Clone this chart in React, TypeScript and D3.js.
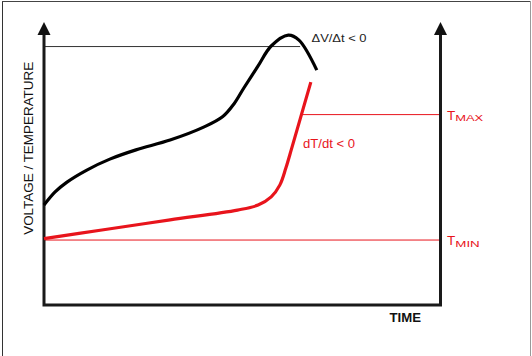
import React from "react";
import * as d3 from "d3";

// Data (time in % of axis span, values in % of axis height)
const voltageTime = [0, 2.8, 5.8, 10.8, 16.6, 23.2, 31.8, 40.4, 45.1, 47.9, 50.4, 54, 57.3, 61.6, 64.3, 68.8];
const voltageValues = [35.7, 40.4, 43.9, 48.2, 52.1, 55.4, 58.9, 63.6, 67.3, 71.8, 77.5, 85.4, 92.5, 96.4, 94.6, 83.9];
const tempTime = [0, 14.6, 31.8, 48.8, 54, 57.3, 59.5, 61, 62.5, 64.6, 67.3];
const tempValues = [23.7, 26.8, 30.4, 33.9, 35.7, 38.6, 42.9, 48.9, 56.1, 66.4, 79.6];
const vPeakLevel = 92.3;
const vPeakLineEnd = 64.6;
const tMaxLevel = 68;
const tMaxLineStart = 65;
const tMinLevel = 23.2;
const yAxisLabel = "VOLTAGE / TEMPERATURE";
const xAxisLabel = "TIME";
const dvLabel = "ΔV/Δt < 0";
const dtLabel = "dT/dt < 0";

const W = 532;
const H = 356;
const RED = "#e8141c";
const FONT = "'Liberation Sans', Arial, sans-serif";

export default function App() {
  const x = d3.scaleLinear().domain([0, 100]).range([44, 440.5]);
  const y = d3.scaleLinear().domain([0, 100]).range([305, 25]);

  const line = d3
    .line<[number, number]>()
    .x((d) => x(d[0]))
    .y((d) => y(d[1]))
    .curve(d3.curveCatmullRom.alpha(0.5));

  const vPts = voltageTime.map((t, i) => [t, voltageValues[i]] as [number, number]);
  const tPts = tempTime.map((t, i) => [t, tempValues[i]] as [number, number]);

  const x0 = x(0);
  const x1 = x(100);
  const yb = y(0);
  const arrowTip = 22;
  const arrowBase = 35;

  const arrow = (cx: number) =>
    `M${cx},${arrowTip} L${cx - 6.5},${arrowBase} L${cx + 6.5},${arrowBase} Z`;

  return (
    <svg
      width={W}
      height={H}
      viewBox={`0 0 ${W} ${H}`}
      style={{ position: "absolute", left: 0, top: 0, background: "#fff" }}
    >
      <rect x={0} y={0} width={W} height={H} fill="#fff" />
      {/* frame */}
      <line x1={2.5} y1={1} x2={2.5} y2={H} stroke="#333" strokeWidth={1} />
      <line x1={2} y1={1.5} x2={W - 1} y2={1.5} stroke="#444" strokeWidth={1} />
      <line x1={W - 1.5} y1={1} x2={W - 1.5} y2={H} stroke="#999" strokeWidth={1} />

      {/* reference lines */}
      <line x1={x0} y1={y(vPeakLevel)} x2={x(vPeakLineEnd)} y2={y(vPeakLevel)} stroke="#333" strokeWidth={1} />
      <line x1={x(tMaxLineStart)} y1={y(tMaxLevel)} x2={x1} y2={y(tMaxLevel)} stroke={RED} strokeWidth={1} />
      <line x1={x0} y1={y(tMinLevel)} x2={x1} y2={y(tMinLevel)} stroke={RED} strokeWidth={1} />

      {/* axes */}
      <path
        d={`M${x0},${arrowBase - 1} L${x0},${yb} L${x1},${yb} L${x1},${arrowBase - 1}`}
        fill="none"
        stroke="#1a1a1a"
        strokeWidth={3}
        strokeLinejoin="miter"
      />
      <path d={arrow(x0)} fill="#111" />
      <path d={arrow(x1)} fill="#111" />

      {/* curves */}
      <path d={line(vPts) || ""} fill="none" stroke="#000" strokeWidth={3.2} strokeLinecap="butt" />
      <path d={line(tPts) || ""} fill="none" stroke={RED} strokeWidth={3.2} strokeLinecap="butt" />

      {/* labels */}
      <text x={311.5} y={41.5} fontFamily={FONT} fontSize={11.5} fill="#222" textLength={55} lengthAdjust="spacingAndGlyphs">
        {dvLabel}
      </text>
      <text x={303} y={148.3} fontFamily={FONT} fontSize={12} fill={RED} textLength={52} lengthAdjust="spacingAndGlyphs">
        {dtLabel}
      </text>
      <text x={447} y={119.5} fontFamily={FONT} fill={RED}>
        <tspan fontSize={13.5}>T</tspan>
        <tspan fontSize={9.5} dy={1.5} textLength={28} lengthAdjust="spacingAndGlyphs">MAX</tspan>
      </text>
      <text x={447} y={245} fontFamily={FONT} fill={RED}>
        <tspan fontSize={13.5}>T</tspan>
        <tspan fontSize={9.5} dy={1.5} textLength={24.5} lengthAdjust="spacingAndGlyphs">MIN</tspan>
      </text>
      <text x={389.5} y={321.7} fontFamily={FONT} fontSize={13} fontWeight="bold" fill="#111" textLength={31.5} lengthAdjust="spacingAndGlyphs">
        {xAxisLabel}
      </text>
      <text
        transform={`translate(33.2,148.3) rotate(-90)`}
        textAnchor="middle"
        fontFamily={FONT}
        fontSize={13}
        fill="#111"
        textLength={173}
        lengthAdjust="spacingAndGlyphs"
      >
        {yAxisLabel}
      </text>
    </svg>
  );
}
